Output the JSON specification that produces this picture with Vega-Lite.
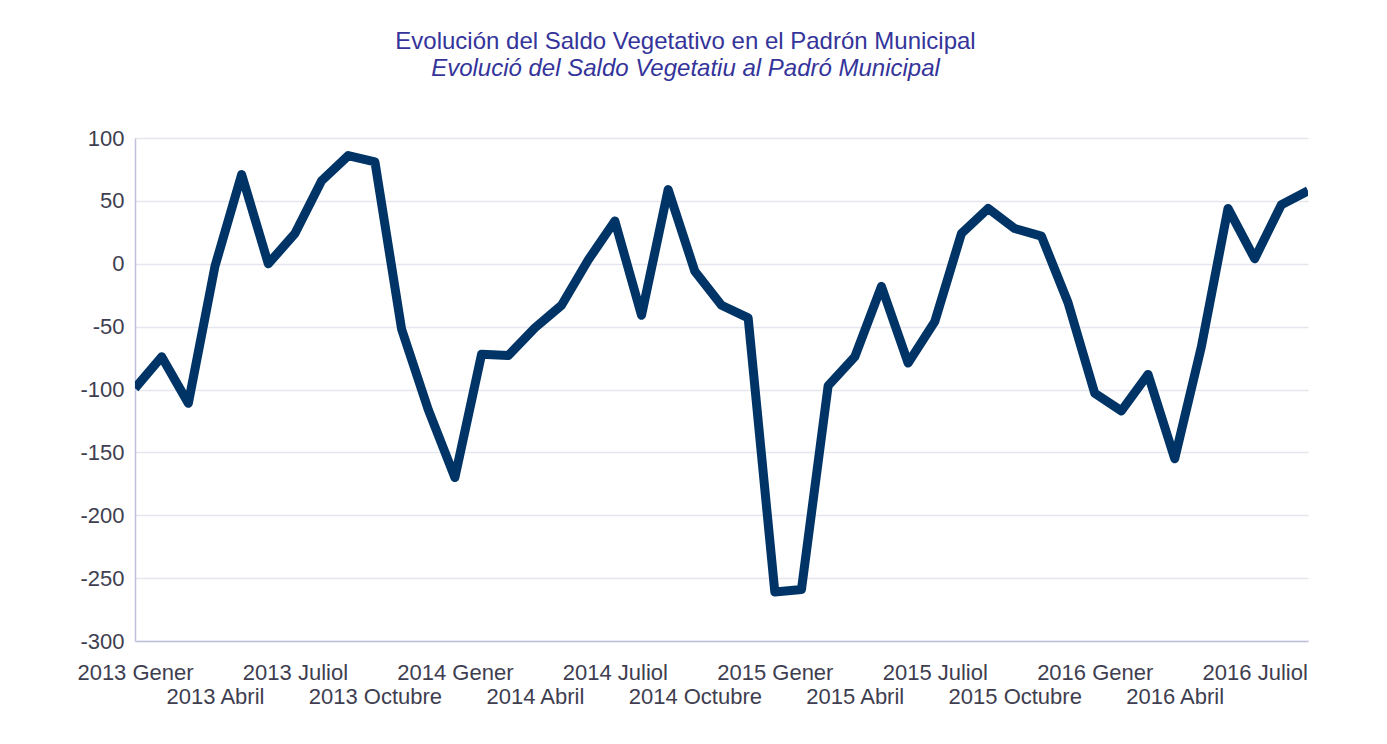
{
  "$schema": "https://vega.github.io/schema/vega-lite/v6.json",
  "autosize": {"type": "none"},
  "width": 1173,
  "height": 503,
  "padding": {"left": 135, "top": 138, "right": 79, "bottom": 103},
  "background": "white",
  "title": {
    "text": "Evolución del Saldo Vegetativo en el Padrón Municipal",
    "subtitle": "Evolució del Saldo Vegetatiu al Padró Municipal",
    "anchor": "middle",
    "font": "Liberation Sans",
    "fontSize": 24,
    "fontWeight": "normal",
    "color": "#34349a",
    "subtitleFont": "Liberation Sans",
    "subtitleFontSize": 24,
    "subtitleFontStyle": "italic",
    "subtitleColor": "#34349a",
    "subtitlePadding": 3,
    "dx": -36,
    "offset": 46
  },
  "config": {
    "view": {"stroke": null},
    "font": "Liberation Sans"
  },
  "data": {
    "values": [
      {"mes": "2013 Gener", "saldo": -99},
      {"mes": "2013 Febrer", "saldo": -74},
      {"mes": "2013 Març", "saldo": -111},
      {"mes": "2013 Abril", "saldo": -2},
      {"mes": "2013 Maig", "saldo": 71},
      {"mes": "2013 Juny", "saldo": 0},
      {"mes": "2013 Juliol", "saldo": 24},
      {"mes": "2013 Agost", "saldo": 66},
      {"mes": "2013 Setembre", "saldo": 86},
      {"mes": "2013 Octubre", "saldo": 81},
      {"mes": "2013 Novembre", "saldo": -52},
      {"mes": "2013 Desembre", "saldo": -116},
      {"mes": "2014 Gener", "saldo": -170},
      {"mes": "2014 Febrer", "saldo": -72},
      {"mes": "2014 Març", "saldo": -73},
      {"mes": "2014 Abril", "saldo": -51},
      {"mes": "2014 Maig", "saldo": -33},
      {"mes": "2014 Juny", "saldo": 3},
      {"mes": "2014 Juliol", "saldo": 34},
      {"mes": "2014 Agost", "saldo": -41},
      {"mes": "2014 Setembre", "saldo": 59},
      {"mes": "2014 Octubre", "saldo": -6},
      {"mes": "2014 Novembre", "saldo": -33},
      {"mes": "2014 Desembre", "saldo": -43},
      {"mes": "2015 Gener", "saldo": -261},
      {"mes": "2015 Febrer", "saldo": -259},
      {"mes": "2015 Març", "saldo": -97},
      {"mes": "2015 Abril", "saldo": -74},
      {"mes": "2015 Maig", "saldo": -18},
      {"mes": "2015 Juny", "saldo": -79},
      {"mes": "2015 Juliol", "saldo": -46},
      {"mes": "2015 Agost", "saldo": 24},
      {"mes": "2015 Setembre", "saldo": 44},
      {"mes": "2015 Octubre", "saldo": 28},
      {"mes": "2015 Novembre", "saldo": 22},
      {"mes": "2015 Desembre", "saldo": -31},
      {"mes": "2016 Gener", "saldo": -103},
      {"mes": "2016 Febrer", "saldo": -117},
      {"mes": "2016 Març", "saldo": -88},
      {"mes": "2016 Abril", "saldo": -155},
      {"mes": "2016 Maig", "saldo": -66},
      {"mes": "2016 Juny", "saldo": 44},
      {"mes": "2016 Juliol", "saldo": 4},
      {"mes": "2016 Agost", "saldo": 47},
      {"mes": "2016 Setembre", "saldo": 58}
    ]
  },
  "mark": {
    "type": "line",
    "color": "#003466",
    "strokeWidth": 9,
    "strokeJoin": "round",
    "strokeCap": "butt",
    "clip": true
  },
  "encoding": {
    "x": {
      "field": "mes",
      "type": "ordinal",
      "sort": null,
      "scale": {"type": "point", "padding": 0},
      "axis": {
        "title": null,
        "ticks": false,
        "grid": false,
        "domainColor": "#c0c0da",
        "domainWidth": 1.5,
        "labelAngle": 0,
        "labelAlign": "center",
        "labelBaseline": "top",
        "labelFont": "Liberation Sans",
        "labelFontSize": 22,
        "labelColor": "#3e3e50",
        "labelPadding": 21,
        "labelLineHeight": 24,
        "labelOverlap": false,
        "labelBound": false,
        "labelExpr": "(indexof(datum.label, 'Gener') >= 0 || indexof(datum.label, 'Juliol') >= 0) ? datum.label : ((indexof(datum.label, 'Abril') >= 0 || indexof(datum.label, 'Octubre') >= 0) ? ['', datum.label] : '')"
      }
    },
    "y": {
      "field": "saldo",
      "type": "quantitative",
      "scale": {"domain": [-300, 100], "nice": false, "zero": false},
      "axis": {
        "title": null,
        "values": [-300, -250, -200, -150, -100, -50, 0, 50, 100],
        "ticks": false,
        "domainColor": "#c0c0da",
        "domainWidth": 1.5,
        "gridColor": "#e6e6ee",
        "gridWidth": 1.5,
        "labelFont": "Liberation Sans",
        "labelFontSize": 22,
        "labelColor": "#3e3e50",
        "labelPadding": 11,
        "labelExpr": "'' + datum.value"
      }
    }
  }
}
